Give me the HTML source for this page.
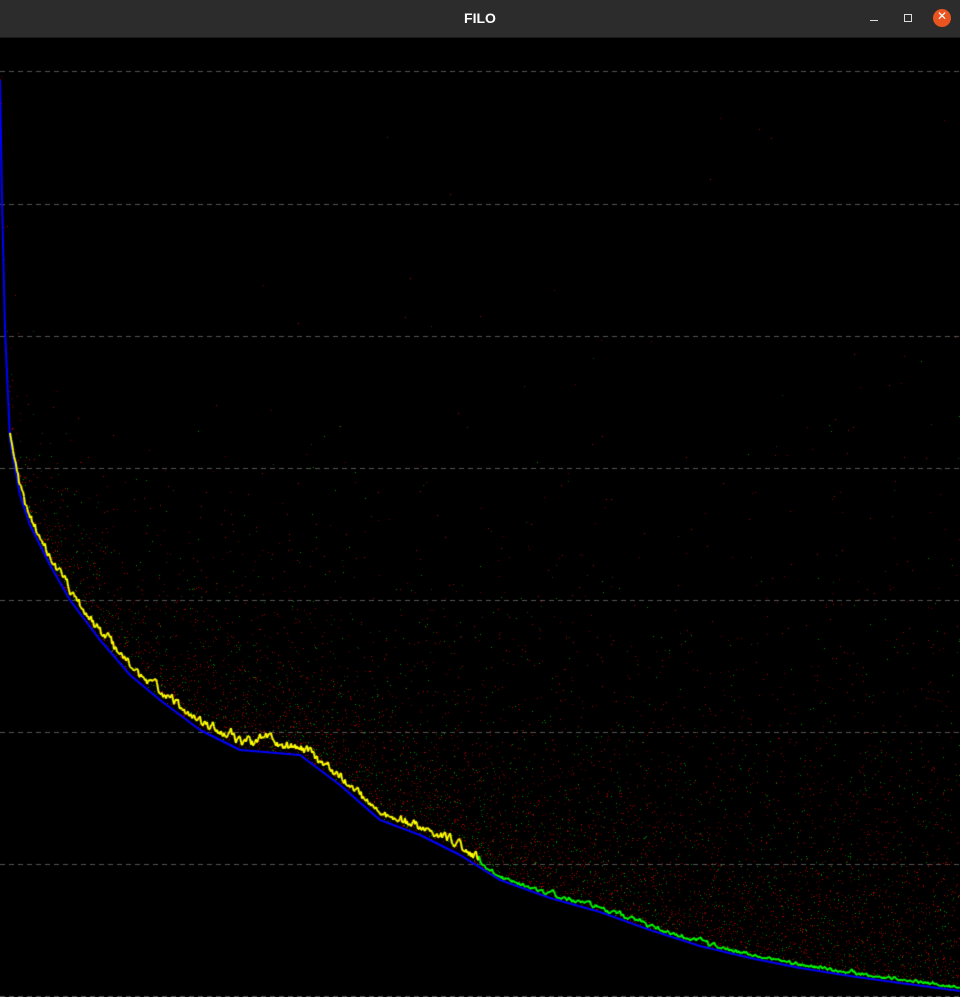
<!DOCTYPE html>
<html><head><meta charset="utf-8"><style>
html,body{margin:0;padding:0;background:#000;width:960px;height:997px;overflow:hidden}
#bar{position:absolute;left:0;top:0;width:960px;height:37px;background:#2c2c2c;border-bottom:1px solid #1a1a1a}
#title{position:absolute;left:0;width:960px;top:10px;text-align:center;color:#fff;font:bold 14px "Liberation Sans",sans-serif}
.btn{position:absolute;top:9px;width:18px;height:18px}
#cv{position:absolute;left:0;top:38px}
</style></head><body>
<div id="bar">
<div id="title">FILO</div>
<div class="btn" style="left:865px"><div style="position:absolute;left:5px;top:11px;width:8px;height:1px;background:#ddd"></div></div>
<div class="btn" style="left:899px"><div style="position:absolute;left:5px;top:5px;width:6px;height:6px;border:1px solid #ddd"></div></div>
<div class="btn" style="left:933px;border-radius:50%;background:#e95420"><div style="position:absolute;left:0;top:0;width:18px;line-height:18px;text-align:center;color:#fff;font:12px 'DejaVu Sans',sans-serif">✕</div></div>
</div>
<canvas id="cv" width="960" height="959"></canvas>
<script>
// envelope (lower bound), page coordinates
const envX=[0,2,5,10,20,30,50,70,100,130,160,200,240,300,340,380,420,460,500,550,600,650,700,750,800,850,900,960];
const envY=[80,200,330,440,495,525,565,600,640,675,700,730,750,755,785,820,835,855,880,898,912,930,946,958,968,976,983,991];
const gridY=[71,204,336,468,600,732,864,996];
const cv=document.getElementById('cv');


const c=cv.getContext('2d');
const OFF=38;
function env(x){for(let i=1;i<envX.length;i++){if(x<=envX[i]){const t=(x-envX[i-1])/(envX[i]-envX[i-1]);return envY[i-1]+t*(envY[i]-envY[i-1]);}}return envY[envY.length-1];}
let s=12345;function rnd(){s=(s*1103515245+12345)&0x7fffffff;return s/0x7fffffff;}
c.fillStyle='#000';c.fillRect(0,0,960,959);
c.strokeStyle='#555';c.setLineDash([5,4]);c.lineWidth=1;
gridY.forEach(g=>{c.beginPath();c.moveTo(0,g-OFF+0.5);c.lineTo(960,g-OFF+0.5);c.stroke();});
c.setLineDash([]);
// scatter texture
for(let i=0;i<95000;i++){
  const x=Math.floor(Math.pow(rnd(),0.75)*960);
  const sc=40+x*0.09;
  const d=-Math.log(1-rnd()*0.9999)*sc;
  const y=env(x)-d;
  c.fillStyle=rnd()<0.7?(rnd()<0.5?'#b00000':'#700000'):(rnd()<0.5?'#009000':'#005000');
  c.fillRect(x,Math.floor(y-OFF),1,1);
}
// blue envelope
c.strokeStyle='#0000ff';c.lineWidth=2;c.beginPath();
for(let x=0;x<=960;x++){const y=env(x)-OFF;x?c.lineTo(x,y):c.moveTo(x,y);}c.stroke();
// yellow / green noisy line
c.lineWidth=2;
let prev=null;let w=0;
for(let x=10;x<=960;x++){
  w=w*0.8+(rnd()-0.5)*(x<480?10:5);
  const off=(x<480?5:2)+Math.abs(w);
  const y=env(x)-OFF-off;
  c.strokeStyle=x<480?'#ffff00':'#00ff00';
  if(prev){c.beginPath();c.moveTo(prev[0],prev[1]);c.lineTo(x,y);c.stroke();}
  prev=[x,y];
}
</script>
</body></html>
